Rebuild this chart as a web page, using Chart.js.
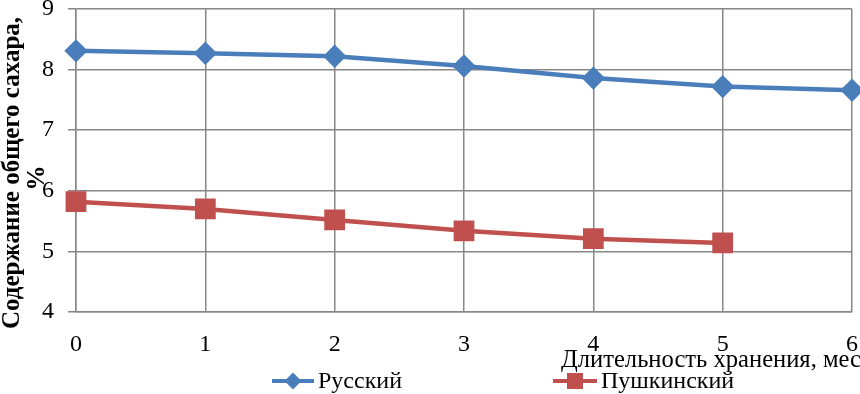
<!DOCTYPE html>
<html>
<head>
<meta charset="utf-8">
<script src="https://cdn.jsdelivr.net/npm/chart.js@4/dist/chart.umd.min.js"></script>
<style>
html,body{margin:0;padding:0;background:#fff;}
#wrap{position:relative;width:860px;height:394px;overflow:hidden;font-family:"Liberation Serif","Times New Roman",serif;}
#c{position:absolute;left:0;top:0;}
.t{position:absolute;white-space:nowrap;color:#000;line-height:normal;}
.ytitle{font-weight:bold;font-size:25px;transform:translate(-50%,-50%) rotate(-90deg);}
.leg{position:absolute;height:4px;}
</style>
</head>
<body>
<div id="wrap">
<canvas id="c" width="860" height="394"></canvas>
<div class="t ytitle" id="yt1" style="left:11px;top:173px;">Содержание общего сахара,</div>
<div class="t ytitle" id="yt2" style="left:36px;top:178px;">%</div>
<div class="t" id="xt" style="left:561px;top:345px;font-size:24.6px;">Длительность хранения, мес</div>
<div class="leg" style="left:272px;top:379px;width:42px;background:#4A7EBB;"></div>
<div style="position:absolute;left:287px;top:375px;width:12px;height:12px;background:#4A7EBB;transform:rotate(45deg);"></div>
<div class="t" style="left:318px;top:367px;font-size:24px;">Русский</div>
<div class="leg" style="left:553px;top:379px;width:44px;background:#C0504D;"></div>
<div style="position:absolute;left:567px;top:373px;width:16px;height:16px;background:#C0504D;"></div>
<div class="t" style="left:601px;top:367px;font-size:24px;">Пушкинский</div>
</div>
<script>
const categories = [0, 1, 2, 3, 4, 5, 6];
const russkiy = [8.31, 8.27, 8.22, 8.06, 7.86, 7.72, 7.66];
const pushkinskiy = [5.82, 5.70, 5.52, 5.34, 5.21, 5.14, null];
const yTicks = [4, 5, 6, 7, 8, 9];

const gridColor = '#878787';
new Chart(document.getElementById('c'), {
  type: 'line',
  data: {
    labels: categories,
    datasets: [
      {label: 'Русский', data: russkiy, borderColor: '#4A7EBB', backgroundColor: '#4A7EBB', clip: false,
       borderWidth: 4.5, pointStyle: 'rectRot', pointRadius: 8.5, pointHoverRadius: 8.5, tension: 0},
      {label: 'Пушкинский', data: pushkinskiy, borderColor: '#C0504D', backgroundColor: '#C0504D', clip: false,
       borderWidth: 4.5, pointStyle: 'rect', pointRadius: 11.5, pointHoverRadius: 11.5, tension: 0}
    ]
  },
  options: {
    responsive: false,
    animation: false,
    layout: {autoPadding: false, padding: {left: 0, right: 8, top: 9, bottom: 0}},
    plugins: {legend: {display: false}, tooltip: {enabled: false}},
    scales: {
      x: {
        type: 'linear', min: 0, max: 6,
        afterFit: s => { s.height = 82; s.paddingLeft = 0; s.paddingRight = 0; },
        grid: {color: gridColor, lineWidth: 1.5, drawTicks: false},
        border: {color: gridColor, width: 1.5},
        ticks: {stepSize: 1, padding: 18, color: '#000', maxRotation: 0,
                font: {family: '"Liberation Serif", serif', size: 24}}
      },
      y: {
        min: 4, max: 9,
        afterFit: s => { s.width = 76; s.paddingTop = 0; s.paddingBottom = 0; },
        afterBuildTicks: s => { s.ticks = yTicks.map(v => ({value: v})); },
        grid: {color: gridColor, lineWidth: 1.5, tickLength: 8},
        border: {color: gridColor, width: 1.5},
        ticks: {padding: 14, color: '#000',
                font: {family: '"Liberation Serif", serif', size: 24}}
      }
    }
  }
});
</script>
</body>
</html>
